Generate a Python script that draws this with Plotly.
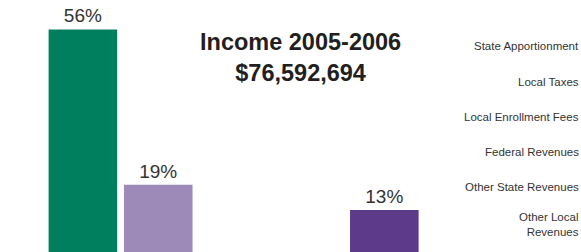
import plotly.graph_objects as go

categories = ["State Apportionment", "Local Taxes", "Local Enrollment Fees",
              "Federal Revenues", "Other State Revenues", "Other Local<br>Revenues"]
values = [56, 19, 3, 3, 13, 3]
labels = ["56%", "19%", "", "", "13%", ""]
colors = ["#007F5F", "#9E8AB8", "#C8B8D8", "#7FB8A0", "#5E3A8B", "#B0A0C8"]
title_lines = ["Income 2005-2006", "$76,592,694"]

x = list(range(len(categories)))

fig = go.Figure()
fig.add_trace(go.Bar(
    x=x, y=values, width=0.91,
    marker=dict(color=colors, line=dict(width=0)),
    text=labels, textposition="outside", cliponaxis=False,
    textfont=dict(family="Liberation Sans, Arial, sans-serif", size=19, color="#333333"),
    hoverinfo="skip",
))

annotations = [dict(
    x=0.518, y=1 - 58 / 252, xref="paper", yref="paper",
    text="<b>" + "<br>".join(title_lines) + "</b>",
    showarrow=False, xanchor="center", yanchor="middle",
    font=dict(family="Liberation Sans, Arial, sans-serif", size=23.5, color="#231F20"),
)]
label_y = [46, 82, 117, 152, 187, 224]
for cat, py in zip(categories, label_y):
    annotations.append(dict(
        x=1.0, y=1 - py / 252, xref="paper", yref="paper",
        text=cat, showarrow=False, xanchor="right", yanchor="middle", align="right",
        font=dict(family="Liberation Sans, Arial, sans-serif", size=11.5, color="#333333"),
    ))

fig.update_layout(
    width=581, height=252,
    margin=dict(l=0, r=0, t=0, b=0),
    paper_bgcolor="white", plot_bgcolor="white",
    showlegend=False,
    xaxis=dict(range=[-1.1, 6.61], showgrid=False, zeroline=False,
               showticklabels=False, showline=False),
    yaxis=dict(range=[3, 63], showgrid=False, zeroline=False,
               showticklabels=False, showline=False),
    annotations=annotations,
)

fig.write_html("out.html", config={"displayModeBar": False},
               post_script="document.body.style.margin='0px';document.body.style.overflow='hidden';")
